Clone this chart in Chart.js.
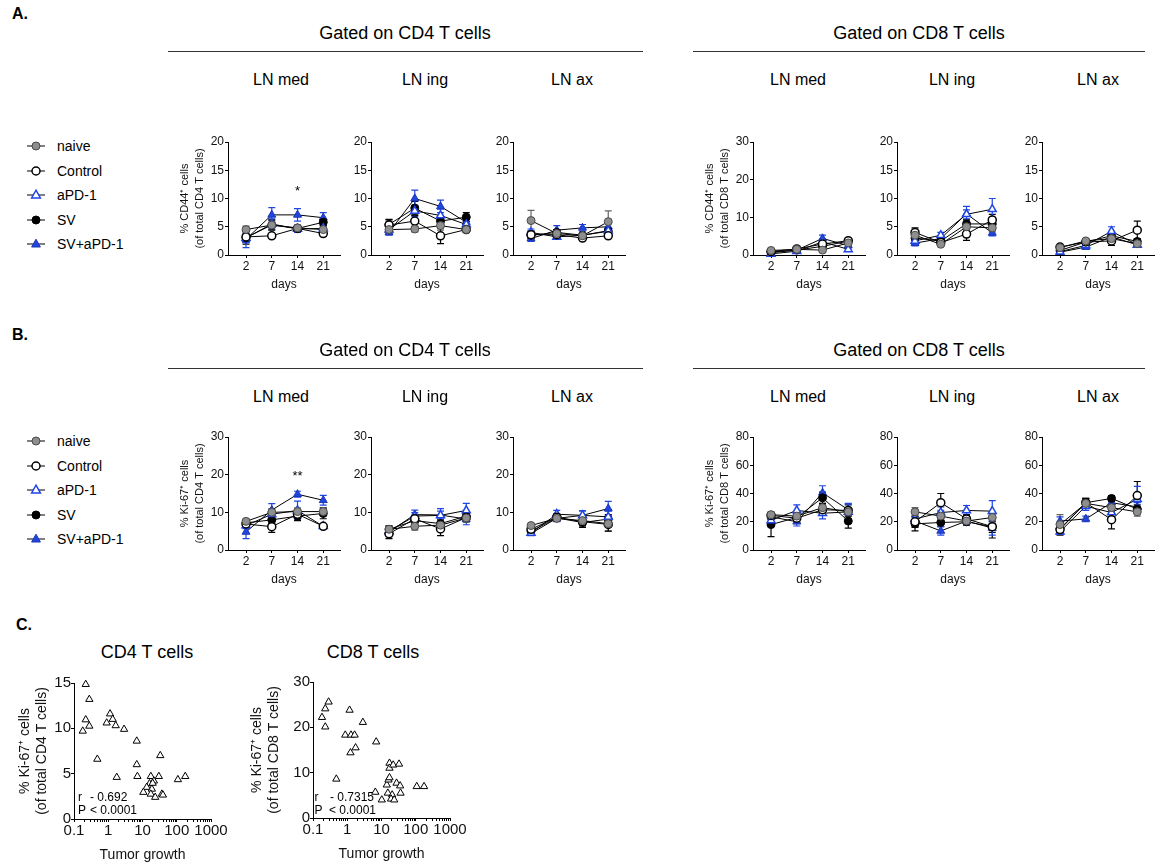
<!DOCTYPE html>
<html>
<head>
<meta charset="utf-8">
<script src="https://cdn.jsdelivr.net/npm/chart.js@4.4.1/dist/chart.umd.min.js"></script>
<style>
  body { margin: 0; background: #fff; font-family: "Liberation Sans", Arial, sans-serif; color: #000; }
  #page { position: relative; width: 1155px; height: 867px; overflow: hidden; }
  #page canvas, #page svg { position: absolute; }
  .t { position: absolute; white-space: nowrap; line-height: 1.15; transform: translate(-50%, -50%); }
  .tl { position: absolute; white-space: nowrap; line-height: 1.15; transform: translate(0, -50%); }
  .rule { position: absolute; height: 0; border-top: 1.3px solid #333; }
</style>
</head>
<body>
<div id="page"></div>
<script>
const days = ['2', '7', '14', '21'];
const groups = ['naive', 'Control', 'aPD-1', 'SV', 'SV+aPD-1'];

// A. % CD44+ cells, one row per group, one column per day
const cd44Cd4Med = [[4.5, 5.3, 4.8, 4.5], [3.2, 3.4, 4.7, 3.8], [3.0, 5.5, 4.6, 4.7], [3.1, 5.3, 4.7, 5.8], [2.8, 7.1, 7.1, 6.6]];
const cd44Cd4MedErr = [[0.6, 0.8, 0.5, 0.5], [1.0, 0.3, 0.5, 0.4], [0.8, 0.9, 0.6, 0.6], [1.2, 0.9, 0.5, 0.6], [1.5, 1.3, 1.1, 0.9]];
const cd44Cd4Ing = [[4.5, 4.6, 5.2, 4.5], [5.3, 6.0, 3.4, 4.5], [4.5, 7.8, 7.0, 5.4], [5.4, 8.3, 6.0, 6.7], [4.0, 10.0, 8.6, 5.8]];
const cd44Cd4IngErr = [[0.6, 0.5, 0.8, 0.4], [0.9, 1.0, 1.4, 0.4], [0.6, 1.0, 1.1, 0.6], [0.9, 1.2, 0.9, 0.8], [0.5, 1.5, 1.1, 0.7]];
const cd44Cd4Ax = [[6.1, 3.8, 3.4, 5.9], [3.6, 3.6, 3.0, 3.4], [4.0, 3.2, 3.5, 4.3], [3.5, 4.0, 3.5, 4.2], [2.9, 4.4, 4.8, 5.0]];
const cd44Cd4AxErr = [[1.8, 0.5, 0.5, 1.9], [0.6, 0.4, 0.3, 0.4], [0.6, 0.4, 0.4, 0.5], [0.6, 0.5, 0.4, 0.5], [0.5, 0.8, 0.6, 0.6]];
const cd44Cd8Med = [[1.2, 1.5, 1.3, 3.2], [0.9, 1.6, 2.9, 3.8], [0.3, 1.0, 3.5, 1.5], [0.8, 1.3, 2.3, 3.7], [0.6, 1.3, 4.4, 2.5]];
const cd44Cd8MedErr = [[0.3, 0.4, 0.5, 0.4], [0.3, 0.4, 0.6, 0.4], [0.3, 0.4, 0.8, 0.5], [0.3, 0.4, 0.6, 0.4], [0.3, 0.4, 0.9, 0.6]];
const cd44Cd8Ing = [[3.5, 1.9, 5.0, 4.8], [4.0, 2.2, 3.7, 6.2], [2.5, 3.5, 7.2, 8.1], [3.0, 2.5, 5.5, 5.5], [2.1, 2.9, 7.3, 3.9]];
const cd44Cd8IngErr = [[0.8, 0.3, 0.7, 0.7], [0.8, 0.4, 1.1, 1.0], [0.6, 0.5, 0.8, 1.9], [0.8, 0.4, 0.7, 0.8], [0.5, 0.5, 1.3, 0.5]];
const cd44Cd8Ax = [[1.3, 2.5, 2.9, 2.0], [1.4, 2.3, 2.5, 4.4], [0.6, 1.7, 4.2, 1.8], [0.8, 2.3, 3.4, 2.4], [0.5, 1.4, 3.2, 1.8]];
const cd44Cd8AxErr = [[0.2, 0.4, 0.5, 0.3], [0.2, 0.4, 0.8, 1.6], [0.2, 0.3, 0.8, 0.3], [0.2, 0.4, 0.5, 0.4], [0.2, 0.3, 0.5, 0.3]];

// B. % Ki-67+ cells
const ki67Cd4Med = [[7.6, 10.0, 10.2, 10.2], [6.9, 6.2, 9.5, 6.3], [6.5, 9.5, 10.5, 6.3], [7.2, 8.0, 9.0, 9.7], [4.8, 10.6, 14.8, 13.2]];
const ki67Cd4MedErr = [[0.6, 1.0, 1.0, 1.0], [0.8, 1.5, 1.0, 0.5], [0.8, 1.2, 2.5, 0.6], [0.6, 1.0, 1.2, 1.4], [1.8, 1.7, 0.8, 1.3]];
const ki67Cd4Ing = [[5.5, 6.3, 6.6, 8.5], [4.3, 8.3, 5.6, 8.6], [5.0, 9.0, 9.2, 10.5], [5.5, 7.8, 7.0, 9.0], [4.8, 9.4, 9.3, 8.2]];
const ki67Cd4IngErr = [[0.9, 1.0, 0.8, 1.2], [1.3, 0.9, 1.8, 1.0], [0.8, 0.9, 1.8, 1.9], [0.9, 0.9, 1.0, 1.0], [0.8, 1.2, 1.0, 1.5]];
const ki67Cd4Ax = [[6.5, 8.4, 7.8, 7.0], [5.5, 8.7, 7.5, 6.8], [4.5, 9.5, 9.2, 8.8], [5.0, 8.5, 7.3, 8.2], [4.4, 8.4, 9.2, 11.0]];
const ki67Cd4AxErr = [[0.5, 0.8, 0.8, 2.0], [0.6, 0.9, 1.5, 1.8], [0.5, 1.0, 1.2, 1.5], [0.6, 0.9, 0.9, 1.2], [0.5, 0.9, 1.2, 1.9]];
const ki67Cd8Med = [[25, 24, 30, 27], [24.5, 22.5, 28.5, 28], [21, 28, 26, 27], [18, 23, 37, 20.5], [23.5, 20, 40.5, 28.5]];
const ki67Cd8MedErr = [[2, 3, 3, 3], [2, 3, 4, 4], [3, 4, 4, 6], [8.5, 3, 4, 5], [2, 3, 5, 4]];
const ki67Cd8Ing = [[27, 24, 20.5, 23], [20, 33.5, 22, 16.5], [22, 26.5, 28, 27.5], [18.5, 19.5, 20, 16.5], [20.5, 13.5, 20.5, 15.5]];
const ki67Cd8IngErr = [[3, 4, 3, 4], [4, 6.5, 3, 8], [4, 4, 3.5, 7.5], [5, 3, 2.5, 4], [3, 3, 3, 5]];
const ki67Cd8Ax = [[18, 33, 30, 27], [14.5, 33.5, 21.5, 38.5], [13, 31, 26.5, 36], [15, 33.5, 36.5, 29], [20.5, 22, 33.5, 30.5]];
const ki67Cd8AxErr = [[7, 3, 3, 3], [4, 3, 6.5, 10], [2, 3, 3, 9], [3, 3, 2, 3], [3, 2, 3, 3]];

// C. tumor growth vs % Ki-67+
const cd4Growth = [0.22, 0.28, 0.22, 0.28, 0.18, 0.48, 1.13, 1.35, 0.9, 1.65, 2.9, 1.77, 6.8, 6.8, 7.1, 33, 17.5, 30, 108, 177, 21.5, 16, 13.3, 10.6, 18.8, 17.5, 23.5, 36.8, 39.5, 19.8];
const cd4Ki67 = [14.85, 13.2, 10.95, 10.25, 9.7, 6.6, 11.6, 11.0, 10.6, 10.3, 9.9, 4.6, 8.6, 6.0, 4.7, 7.0, 4.7, 4.7, 4.35, 4.7, 4.2, 3.9, 3.5, 2.95, 3.3, 2.75, 2.4, 2.75, 2.65, 3.95];
const cd8Growth = [0.183, 0.228, 0.286, 0.228, 0.48, 1.17, 2.86, 0.875, 1.29, 1.64, 1.75, 1.24, 7.0, 6.6, 10.2, 15.3, 14.3, 16, 17.1, 17.1, 22, 32.5, 27.5, 17.1, 35, 36, 20.5, 19, 23.5, 107, 175];
const cd8Ki67 = [22.2, 24.1, 25.6, 20.1, 8.6, 23.8, 21.1, 18.3, 18.3, 18.3, 15.5, 14.4, 16.8, 5.7, 4.0, 5.5, 7.3, 8.4, 12.1, 11.0, 11.7, 11.9, 7.7, 8.9, 7.1, 5.5, 5.1, 4.2, 4.0, 6.95, 6.95];
const growthTicks = [0.1, 1, 10, 100, 1000];

Chart.defaults.font.family = '"Liberation Sans", Arial, sans-serif';
Chart.defaults.color = '#111';

const page = document.getElementById('page');

const markStyle = [
  { shape: 'circle', r: 4, fill: '#8e8e8e', stroke: '#4a4a4a', bw: 1, err: '#666' },
  { shape: 'circle', r: 4, fill: '#fff', stroke: '#000', bw: 1.5, err: '#000' },
  { shape: 'triangle', r: 4.6, fill: '#fff', stroke: '#1f45e6', bw: 1.5, err: '#1f45e6' },
  { shape: 'circle', r: 4, fill: '#000', stroke: '#000', bw: 1, err: '#000' },
  { shape: 'triangle', r: 4.6, fill: '#2146e0', stroke: '#1a36b4', bw: 1, err: '#2146e0' },
];

function text(str, x, y, size, opts = {}) {
  const d = document.createElement('div');
  d.className = opts.left ? 'tl' : 't';
  d.textContent = str;
  d.style.left = x + 'px';
  d.style.top = y + 'px';
  d.style.fontSize = size + 'px';
  if (opts.bold) d.style.fontWeight = 'bold';
  page.appendChild(d);
}

function rule(x1, x2, y) {
  const d = document.createElement('div');
  d.className = 'rule';
  d.style.left = x1 + 'px';
  d.style.width = (x2 - x1) + 'px';
  d.style.top = y + 'px';
  page.appendChild(d);
}

function legend(y0) {
  groups.forEach((g, i) => {
    const y = y0 + i * 24.5;
    const m = markStyle[i];
    const svgNS = 'http://www.w3.org/2000/svg';
    const svg = document.createElementNS(svgNS, 'svg');
    svg.setAttribute('width', 24);
    svg.setAttribute('height', 14);
    svg.style.left = '25px';
    svg.style.top = (y - 7) + 'px';
    const line = document.createElementNS(svgNS, 'line');
    line.setAttribute('x1', 2); line.setAttribute('x2', 20);
    line.setAttribute('y1', 7); line.setAttribute('y2', 7);
    line.setAttribute('stroke', '#000');
    svg.appendChild(line);
    let mk;
    if (m.shape === 'circle') {
      mk = document.createElementNS(svgNS, 'circle');
      mk.setAttribute('cx', 11); mk.setAttribute('cy', 7); mk.setAttribute('r', m.r);
    } else {
      mk = document.createElementNS(svgNS, 'polygon');
      mk.setAttribute('points', '11,2.2 15.4,10 6.6,10');
    }
    mk.setAttribute('fill', m.fill);
    mk.setAttribute('stroke', m.stroke);
    mk.setAttribute('stroke-width', m.bw);
    svg.appendChild(mk);
    page.appendChild(svg);
    text(g, 57, y, 14, { left: true });
  });
}

const errorBars = {
  id: 'errorBars',
  beforeDatasetsDraw(chart) {
    const { ctx, scales: { x, y } } = chart;
    chart.data.datasets.forEach((ds) => {
      if (!ds.err) return;
      ctx.save();
      ctx.strokeStyle = ds.errColor;
      ctx.lineWidth = 1.2;
      ds.data.forEach((p, i) => {
        const px = x.getPixelForValue(p.x);
        const top = y.getPixelForValue(p.y + ds.err[i]);
        const bot = y.getPixelForValue(Math.max(p.y - ds.err[i], 0));
        ctx.beginPath();
        ctx.moveTo(px, top); ctx.lineTo(px, bot);
        ctx.moveTo(px - 3.5, top); ctx.lineTo(px + 3.5, top);
        ctx.moveTo(px - 3.5, bot); ctx.lineTo(px + 3.5, bot);
        ctx.stroke();
      });
      ctx.restore();
    });
  }
};

function starMarks(marks) {
  return {
    id: 'starMarks',
    afterDatasetsDraw(chart) {
      const { ctx, scales: { x, y } } = chart;
      ctx.save();
      ctx.fillStyle = '#000';
      ctx.font = '13px "Liberation Sans", Arial, sans-serif';
      ctx.textAlign = 'center';
      ctx.textBaseline = 'middle';
      marks.forEach((s) => ctx.fillText(s.text, x.getPixelForValue(s.x), y.getPixelForValue(s.y)));
      ctx.restore();
    }
  };
}

const axisGrid = { drawOnChartArea: false, tickLength: 3, color: '#000', lineWidth: 1 };
const axisBorder = { color: '#000', width: 1 };

function lineChart(cfg) {
  const YW = 50, XH = 37, PT = 10, PR = 12, W = 112, H = 113;
  const c = document.createElement('canvas');
  c.width = YW + W + PR;
  c.height = PT + H + XH;
  c.style.left = (cfg.left - YW) + 'px';
  c.style.top = (cfg.top - PT) + 'px';
  page.appendChild(c);
  new Chart(c, {
    type: 'line',
    data: {
      datasets: groups.map((g, gi) => ({
        label: g,
        data: cfg.rows[gi].map((v, i) => ({ x: i, y: v })),
        err: cfg.errs[gi],
        errColor: markStyle[gi].err,
        borderColor: '#000',
        borderWidth: 1,
        fill: false,
        clip: false,
        pointStyle: markStyle[gi].shape,
        pointRadius: markStyle[gi].r,
        pointBackgroundColor: markStyle[gi].fill,
        pointBorderColor: markStyle[gi].stroke,
        pointBorderWidth: markStyle[gi].bw,
      })),
    },
    plugins: [errorBars, starMarks(cfg.stars || [])],
    options: {
      responsive: false,
      animation: false,
      devicePixelRatio: 1,
      layout: { padding: { top: PT, right: PR, bottom: 0, left: 0 } },
      plugins: { legend: { display: false }, tooltip: { enabled: false } },
      scales: {
        x: {
          type: 'linear', min: -0.7, max: 3.65,
          afterBuildTicks: (s) => { s.ticks = days.map((d, i) => ({ value: i })); },
          afterFit: (s) => { s.height = XH; },
          ticks: { callback: (v) => days[v], font: { size: 12 }, padding: 1, autoSkip: false, maxRotation: 0 },
          grid: axisGrid, border: axisBorder,
          title: { display: true, text: 'days', font: { size: 12 }, padding: 0, color: '#111' },
        },
        y: {
          min: 0, max: cfg.ymax,
          afterFit: (s) => { s.width = YW; },
          ticks: { stepSize: cfg.step, font: { size: 12 }, padding: 1 },
          grid: axisGrid, border: axisBorder,
          title: { display: true, text: cfg.yTitle, font: { size: 11, lineHeight: 1.35 }, padding: 0, color: '#111' },
        },
      },
    },
  });
}

function scatterChart(cfg) {
  const XH = 45, PT = 10, PR = 22, W = 137, H = 136;
  const c = document.createElement('canvas');
  c.width = cfg.yw + W + PR;
  c.height = PT + H + XH;
  c.style.left = (cfg.left - cfg.yw) + 'px';
  c.style.top = (cfg.top - PT) + 'px';
  page.appendChild(c);
  new Chart(c, {
    type: 'scatter',
    data: {
      datasets: [{
        data: cfg.xs.map((v, i) => ({ x: v, y: cfg.ys[i] })),
        pointStyle: 'triangle',
        pointRadius: 4.2,
        pointBackgroundColor: '#fff',
        pointBorderColor: '#000',
        pointBorderWidth: 1,
        clip: false,
      }],
    },
    options: {
      responsive: false,
      animation: false,
      devicePixelRatio: 1,
      layout: { padding: { top: PT, right: PR, bottom: 0, left: 0 } },
      plugins: { legend: { display: false }, tooltip: { enabled: false } },
      scales: {
        x: {
          type: 'logarithmic', min: 0.1, max: 1000,
          afterBuildTicks: (s) => {
            const t = [];
            for (let d = -1; d < 3; d++) for (let k = 1; k < 10; k++) t.push({ value: k * Math.pow(10, d) });
            t.push({ value: 1000 });
            s.ticks = t;
          },
          afterFit: (s) => { s.height = XH; },
          ticks: {
            autoSkip: false, maxRotation: 0, font: { size: 15 }, padding: 0,
            callback: (v) => {
              const m = growthTicks.find((g) => Math.abs(v - g) / g < 1e-6);
              return m === undefined ? '' : String(m);
            },
          },
          grid: axisGrid, border: axisBorder,
          title: { display: true, text: 'Tumor growth', font: { size: 14 }, padding: 0, color: '#111' },
        },
        y: {
          min: 0, max: cfg.ymax,
          afterFit: (s) => { s.width = cfg.yw; },
          ticks: { stepSize: cfg.step, font: { size: 15 }, padding: 0 },
          grid: axisGrid, border: axisBorder,
          title: { display: true, text: cfg.yTitle, font: { size: 14, lineHeight: 1.2 }, padding: 0, color: '#111' },
        },
      },
    },
  });
}

// ---------- panel A ----------
text('A.', 12, 14, 16, { bold: true, left: true });
text('Gated on CD4 T cells', 405, 33, 18);
text('Gated on CD8 T cells', 919, 33, 18);
rule(168, 643, 51);
rule(693, 1145, 51);
const lnNames = ['LN med', 'LN ing', 'LN ax'];
const lnX = [281, 425, 572, 798, 952, 1098];
lnX.forEach((x, i) => text(lnNames[i % 3], x, 80, 16));
legend(146);

const colLeft = [228, 371, 513, 753, 897, 1042];
const cd44Cd4Title = ['% CD44\u207A cells', '(of total CD4 T cells)'];
const cd44Cd8Title = ['% CD44\u207A cells', '(of total CD8 T cells)'];
lineChart({ left: colLeft[0], top: 142, ymax: 20, step: 5, yTitle: cd44Cd4Title, rows: cd44Cd4Med, errs: cd44Cd4MedErr, stars: [{ x: 2, y: 11.3, text: '*' }] });
lineChart({ left: colLeft[1], top: 142, ymax: 20, step: 5, yTitle: '', rows: cd44Cd4Ing, errs: cd44Cd4IngErr });
lineChart({ left: colLeft[2], top: 142, ymax: 20, step: 5, yTitle: '', rows: cd44Cd4Ax, errs: cd44Cd4AxErr });
lineChart({ left: colLeft[3], top: 142, ymax: 30, step: 10, yTitle: cd44Cd8Title, rows: cd44Cd8Med, errs: cd44Cd8MedErr });
lineChart({ left: colLeft[4], top: 142, ymax: 20, step: 5, yTitle: '', rows: cd44Cd8Ing, errs: cd44Cd8IngErr });
lineChart({ left: colLeft[5], top: 142, ymax: 20, step: 5, yTitle: '', rows: cd44Cd8Ax, errs: cd44Cd8AxErr });

// ---------- panel B ----------
text('B.', 12, 335, 16, { bold: true, left: true });
text('Gated on CD4 T cells', 405, 350, 18);
text('Gated on CD8 T cells', 919, 350, 18);
rule(168, 643, 368);
rule(693, 1145, 368);
lnX.forEach((x, i) => text(lnNames[i % 3], x, 397, 16));
legend(441);

const ki67Cd4Title = ['% Ki-67\u207A cells', '(of total CD4 T cells)'];
const ki67Cd8Title = ['% Ki-67\u207A cells', '(of total CD8 T cells)'];
lineChart({ left: colLeft[0], top: 437, ymax: 30, step: 10, yTitle: ki67Cd4Title, rows: ki67Cd4Med, errs: ki67Cd4MedErr, stars: [{ x: 2, y: 19.5, text: '**' }] });
lineChart({ left: colLeft[1], top: 437, ymax: 30, step: 10, yTitle: '', rows: ki67Cd4Ing, errs: ki67Cd4IngErr });
lineChart({ left: colLeft[2], top: 437, ymax: 30, step: 10, yTitle: '', rows: ki67Cd4Ax, errs: ki67Cd4AxErr });
lineChart({ left: colLeft[3], top: 437, ymax: 80, step: 20, yTitle: ki67Cd8Title, rows: ki67Cd8Med, errs: ki67Cd8MedErr });
lineChart({ left: colLeft[4], top: 437, ymax: 80, step: 20, yTitle: '', rows: ki67Cd8Ing, errs: ki67Cd8IngErr });
lineChart({ left: colLeft[5], top: 437, ymax: 80, step: 20, yTitle: '', rows: ki67Cd8Ax, errs: ki67Cd8AxErr });

// ---------- panel C ----------
text('C.', 16, 625, 16, { bold: true, left: true });
text('CD4 T cells', 147, 652, 18);
text('CD8 T cells', 373, 652, 18);
scatterChart({ left: 74, top: 682.5, yw: 57, ymax: 15, step: 5, yTitle: ki67Cd4Title, xs: cd4Growth, ys: cd4Ki67 });
scatterChart({ left: 312.7, top: 682, yw: 64, ymax: 30, step: 10, yTitle: ki67Cd8Title, xs: cd8Growth, ys: cd8Ki67 });
text('r', 78, 797.7, 12, { left: true });
text('- 0.692', 90, 797.7, 12, { left: true });
text('P', 78, 810.5, 12, { left: true });
text('< 0.0001', 90, 810.5, 12, { left: true });
text('r', 314.5, 797.7, 12, { left: true });
text('- 0.7315', 330, 797.7, 12, { left: true });
text('P', 314.5, 810.5, 12, { left: true });
text('< 0.0001', 329, 810.5, 12, { left: true });
</script>
</body>
</html>
